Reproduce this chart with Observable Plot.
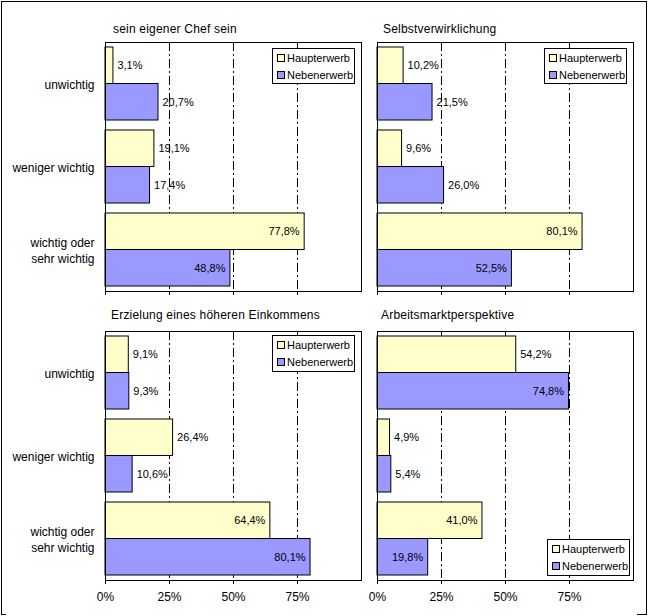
<!DOCTYPE html>
<html><head><meta charset="utf-8">
<script src="https://cdn.jsdelivr.net/npm/d3@7"></script>
<script src="https://cdn.jsdelivr.net/npm/@observablehq/plot@0.6"></script>
<style>
body{margin:0;background:#fff;font-family:"Liberation Sans",Arial,sans-serif;}
#chart{position:relative;width:648px;height:616px;background:#fff;overflow:hidden}
#chart svg{position:absolute;overflow:visible}
.title{position:absolute;font-size:12px;line-height:14px;white-space:nowrap;color:#000;letter-spacing:0.2px}
.legend{position:absolute;border:1px solid #000;background:#fff;font-size:11px;box-sizing:border-box;padding:0 4px;color:#000}
.legend .row{height:17px;white-space:nowrap;display:flex;align-items:center}
.sw{width:6px;height:6px;border:1px solid #000;margin-right:2px;display:inline-block;flex:none}
.ln{position:absolute;background:#000}
</style></head><body><div id="chart"></div>
<script>
// ---- data ----
const categories = ["unwichtig", "weniger wichtig", "wichtig oder\nsehr wichtig"];
const seriesNames = ["Haupterwerb", "Nebenerwerb"];
const titles = ["sein eigener Chef sein", "Selbstverwirklichung", "Erzielung eines höheren Einkommens", "Arbeitsmarktperspektive"];
const chefHaupt = [3.1, 19.1, 77.8];
const chefNeben = [20.7, 17.4, 48.8];
const selbstHaupt = [10.2, 9.6, 80.1];
const selbstNeben = [21.5, 26.0, 52.5];
const einkHaupt = [9.1, 26.4, 64.4];
const einkNeben = [9.3, 10.6, 80.1];
const arbeitHaupt = [54.2, 4.9, 41.0];
const arbeitNeben = [74.8, 5.4, 19.8];
const xTicks = [0, 25, 50, 75];
const gridValues = [25, 50, 75];

// ---- styles ----
const seriesColors = ["#FFFFCC", "#9999FF"];
const FONT = '"Liberation Sans", Arial, sans-serif';

const chart = document.getElementById("chart");

function line(l, t, w, h) {
  const d = document.createElement("div");
  d.className = "ln";
  Object.assign(d.style, {left: l + "px", top: t + "px", width: w + "px", height: h + "px"});
  chart.appendChild(d);
}

function makePanel(hVals, nVals, hInside, nInside, o) {
  const rows = categories.flatMap((c, i) => [
    {category: c, series: seriesNames[0], value: hVals[i], inside: hInside[i]},
    {category: c, series: seriesNames[1], value: nVals[i], inside: nInside[i]}
  ]);
  const H = rows.filter(d => d.series === seriesNames[0]);
  const N = rows.filter(d => d.series === seriesNames[1]);
  const pi = 0.12, po = 0.06;
  const plotH = o.height - o.marginTop - o.marginBottom;
  const step = plotH / (categories.length - pi + 2 * po);
  const half = step * (1 - pi) / 2;
  const fmt = d => d.value.toFixed(1).replace(".", ",") + "%";
  const lab = (data, inside, dy) => Plot.text(data.filter(d => d.inside === inside), {
    x: "value", y: "category", text: fmt,
    textAnchor: inside ? "end" : "start", dx: inside ? -5 : 4, dy,
    fontSize: 11, fill: "#000"
  });
  const marks = [
    Plot.ruleX(gridValues, {stroke: "#000", strokeWidth: 1, strokeDasharray: "9,3,2,3"}),
    Plot.barX(H, {x: "value", y: "category", fill: "series", stroke: "#000", strokeWidth: 1, insetBottom: half}),
    Plot.barX(N, {x: "value", y: "category", fill: "series", stroke: "#000", strokeWidth: 1, insetTop: half}),
    lab(H, false, -half / 2), lab(H, true, -half / 2),
    lab(N, false, half / 2), lab(N, true, half / 2),
    Plot.frame({stroke: "#000", strokeWidth: 1}),
    Plot.axisX({ticks: xTicks, tickSize: 4, tickPadding: 8, label: null, fontSize: 12,
      tickFormat: o.xLabels ? (d => d + "%") : (() => "")})
  ];
  if (o.yLabels) marks.push(Plot.axisY({tickSize: 0, tickPadding: 11, label: null, fontSize: 12, lineHeight: 1.28}));
  const svg = Plot.plot({
    width: o.width, height: o.height,
    marginLeft: o.marginLeft, marginRight: o.marginRight,
    marginTop: o.marginTop, marginBottom: o.marginBottom,
    style: {fontFamily: FONT, fontSize: "12px", color: "#000", background: "transparent"},
    x: {domain: [0, 100], label: null},
    y: {domain: categories, paddingInner: pi, paddingOuter: po, label: null, axis: o.yLabels ? undefined : null},
    color: {domain: seriesNames, range: seriesColors},
    marks
  });
  svg.style.left = o.left + "px";
  svg.style.top = o.top + "px";
  chart.appendChild(svg);

  const t = document.createElement("div");
  t.className = "title";
  t.textContent = o.title;
  t.style.left = o.titleX + "px";
  t.style.top = o.titleY + "px";
  chart.appendChild(t);

  const lg = document.createElement("div");
  lg.className = "legend";
  Object.assign(lg.style, {left: o.legend[0] + "px", top: o.legend[1] + "px", width: o.legend[2] + "px", height: o.legend[3] + "px"});
  seriesNames.forEach((s, i) => {
    const r = document.createElement("div");
    r.className = "row";
    const sw = document.createElement("span");
    sw.className = "sw";
    sw.style.background = seriesColors[i];
    r.appendChild(sw);
    r.appendChild(document.createTextNode(s));
    lg.appendChild(r);
  });
  chart.appendChild(lg);
}

makePanel(chefHaupt, chefNeben, [false, false, true], [false, false, true], {
  left: 0, top: 0, width: 366, height: 300, marginLeft: 105, marginRight: 5, marginTop: 42, marginBottom: 9,
  yLabels: true, xLabels: false, title: titles[0], titleX: 113, titleY: 22, legend: [272, 48, 83, 36]
});
makePanel(selbstHaupt, selbstNeben, [false, false, true], [false, false, true], {
  left: 360, top: 0, width: 280, height: 300, marginLeft: 17, marginRight: 7, marginTop: 42, marginBottom: 9,
  yLabels: false, xLabels: false, title: titles[1], titleX: 383, titleY: 22, legend: [544, 48, 83, 36]
});
makePanel(einkHaupt, einkNeben, [false, false, true], [false, false, true], {
  left: 0, top: 300, width: 366, height: 316, marginLeft: 105, marginRight: 5, marginTop: 31, marginBottom: 36,
  yLabels: true, xLabels: true, title: titles[2], titleX: 111, titleY: 308, legend: [272, 335, 83, 37]
});
makePanel(arbeitHaupt, arbeitNeben, [false, false, true], [true, false, true], {
  left: 360, top: 300, width: 280, height: 316, marginLeft: 17, marginRight: 7, marginTop: 31, marginBottom: 36,
  yLabels: false, xLabels: true, title: titles[3], titleX: 381, titleY: 308, legend: [547, 539, 83, 37]
});

// outer border (top, left, right full; bottom only at corners)
line(1, 1, 646, 1);
line(1, 1, 1, 614);
line(646, 1, 1, 614);
line(1, 614, 5, 1);
line(637, 614, 10, 1);
</script></body></html>
